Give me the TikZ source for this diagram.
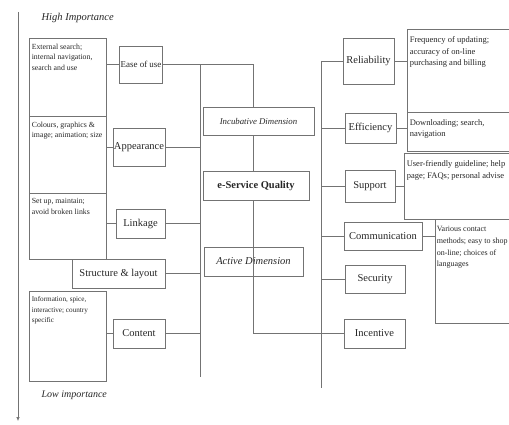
\documentclass[tikz,border=0pt]{standalone}
\usepackage{fontspec}
\setmainfont{Liberation Serif}
\usetikzlibrary{arrows.meta}

\begin{document}
\begin{tikzpicture}[x=1pt,y=-1pt,line width=0.6pt,
   dim/.style={draw=black!55,text=black!85,inner sep=1pt,font=\fontsize{10.5}{12}\selectfont},
   det/.style={draw=black!55,text=black!85,anchor=north west,inner xsep=2.5pt,inner ysep=5.5pt,font=\fontsize{7.8}{10.5}\selectfont},
   rdet/.style={det,inner ysep=7pt,font=\fontsize{8.5}{11.8}\selectfont},
   wire/.style={draw=black!55}]
   \useasboundingbox (0,0) rectangle (509,425);
   \clip (0,0) rectangle (509,425);

   \node[anchor=west,text=black!85,font=\fontsize{10.5}{12}\selectfont\itshape] (high) at (38,18) {High Importance};
   \node[anchor=west,text=black!85,font=\fontsize{10}{12}\selectfont\itshape] (low) at (38,395) {Low importance};

   % left hand descriptions
   \node[det] (d_ease) at (29,38) {\parbox[c][67pt][t]{72pt}{External search;\\internal navigation,\\search and use}};
   \node[det] (d_appear) at (29,116) {\parbox[c][66pt][t]{72pt}{Colours, graphics \&\\image; animation; size}};
   \node[det] (d_link) at (29,193) {\parbox[c][55pt][t]{72pt}{Set up, maintain;\\avoid broken links}};
   \node[det,font=\fontsize{7.2}{10.5}\selectfont] (d_content) at (29,291) {\parbox[c][79pt][t]{72pt}{Information, spice,\\interactive; country\\specific}};

   \node[dim,minimum width=42pt,minimum height=37pt,font=\fontsize{9}{11}\selectfont] (ease) at (141,64.5) {Ease of use};
   \node[dim,minimum width=52pt,minimum height=38pt] (appear) at (139,147) {Appearance};
   \node[dim,minimum width=49pt,minimum height=29pt] (link) at (140.5,223.5) {Linkage};
   \node[dim,minimum width=93pt,minimum height=29pt] (struct) at (118.5,273.5) {Structure \& layout};
   \node[dim,minimum width=52pt,minimum height=29pt] (content) at (139,333.5) {Content};

   \node[dim,minimum width=111pt,minimum height=28pt,font=\fontsize{8.8}{11}\selectfont\itshape] (incub) at (258.5,121) {Incubative Dimension};
   \node[dim,minimum width=106pt,minimum height=29pt,font=\fontsize{10.5}{12}\selectfont\bfseries] (esq) at (256,185.5) {e-Service Quality};
   \node[dim,minimum width=99pt,minimum height=29pt,font=\fontsize{10.5}{12}\selectfont\itshape] (active) at (253.5,261.5) {Active Dimension};

   \node[dim,minimum width=51pt,minimum height=46pt] (rel) at (368.5,61) {Reliability};
   \node[dim,minimum width=51pt,minimum height=30pt] (eff) at (370.5,128) {Efficiency};
   \node[dim,minimum width=50pt,minimum height=32pt] (supp) at (370,186) {Support};
   \node[dim,minimum width=78pt,minimum height=28pt] (comm) at (383,236) {Communication};
   \node[dim,minimum width=60pt,minimum height=28pt] (secu) at (375,279) {Security};
   \node[dim,minimum width=61pt,minimum height=29pt] (incent) at (374.5,333.5) {Incentive};

   % right hand descriptions
   \node[rdet] (d_rel) at (407,29) {\parbox[c][69pt][t]{116pt}{Frequency of updating;\\accuracy of on-line\\purchasing and billing}};
   \node[rdet] (d_eff) at (407,112) {\parbox[c][25pt][t]{116pt}{Downloading; search,\\navigation}};
   \node[rdet] (d_supp) at (404,153) {\parbox[c][52pt][t]{116pt}{User-friendly guideline; help\\page; FAQs; personal advise}};
   \node[rdet,inner xsep=1.5pt,font=\fontsize{8}{11.8}\selectfont] (d_comm) at (435,219) {\parbox[c][90pt][t]{116pt}{Various contact\\methods; easy to shop\\on-line; choices of\\languages}};

   \coordinate (atop) at (18,12);
   \coordinate (abot) at (18,421);
   \coordinate (lbot) at (200,377);
   \coordinate (rbot) at (321,388);

   \draw[wire,-{Latex[length=4pt,width=3.5pt]}] (atop) -- (abot);

   \path[wire]
     (d_ease.east |- ease.west) edge (ease.west)
     (d_appear.east |- appear.west) edge (appear.west)
     (d_link.east |- link.west) edge (link.west)
     (d_content.east |- content.west) edge (content.west)
     (ease.east -| lbot) edge (lbot)
     (appear.east) edge (appear.east -| lbot)
     (link.east) edge (link.east -| lbot)
     (struct.east) edge (struct.east -| lbot)
     (content.east) edge (content.east -| lbot);

   \draw[wire] (ease.east) -| (incub.north -| active.south);
   \path[wire]
     (incub.south -| active.south) edge (esq.north -| active.south)
     (esq.south -| active.south) edge (active.south);
   \draw[wire] (active.south) |- (incent.west);

   \path[wire]
     (rel.west -| rbot) edge (rbot)
     (rel.west -| rbot) edge (rel.west)
     (eff.west -| rbot) edge (eff.west)
     (supp.west -| rbot) edge (supp.west)
     (comm.west -| rbot) edge (comm.west)
     (secu.west -| rbot) edge (secu.west)
     (rel.east) edge (rel.east -| d_rel.west)
     (eff.east) edge (eff.east -| d_eff.west)
     (supp.east) edge (supp.east -| d_supp.west)
     (comm.east) edge (comm.east -| d_comm.west);
\end{tikzpicture}
\end{document}
